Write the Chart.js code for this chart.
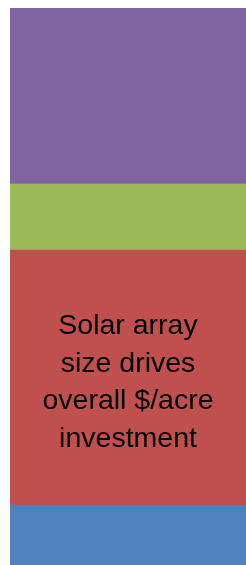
<!DOCTYPE html>
<html>
<head>
<meta charset="utf-8">
<script src="https://cdn.jsdelivr.net/npm/chart.js@4/dist/chart.umd.min.js"></script>
<style>
  html, body { margin: 0; padding: 0; background: #fff; }
  #wrap { width: 246px; height: 565px; }
</style>
</head>
<body>
<div id="wrap"><canvas id="costChart"></canvas></div>
<script>
/* ===== Data (bottom to top of the stack) ===== */
const categories = ["Cost"];
const segmentNames = ["Base", "Solar array", "Other", "Top"];
const segmentValues = [60, 255, 66, 176];
const segmentColors = ["#4F81BD", "#C0504D", "#9BBB59", "#8064A2"];
const calloutLines = ["Solar array", "size drives", "overall $/acre", "investment"];
const calloutSegment = 1;

/* ===== Callout text inside a segment ===== */
const calloutPlugin = {
  id: "callout",
  afterDatasetsDraw(chart) {
    const bar = chart.getDatasetMeta(calloutSegment).data[0];
    if (!bar) return;
    const ctx = chart.ctx;
    const cy = (bar.y + bar.base) / 2;
    const lineH = 37.5;
    ctx.save();
    ctx.fillStyle = "#000";
    ctx.font = "28.5px 'Liberation Sans', Arial, sans-serif";
    ctx.textAlign = "center";
    ctx.textBaseline = "alphabetic";
    calloutLines.forEach((line, i) => {
      const y = cy + (i - (calloutLines.length - 1) / 2) * lineH + 13;
      ctx.fillText(line, bar.x, y);
    });
    ctx.restore();
  }
};

const total = segmentValues.reduce((a, b) => a + b, 0);

new Chart(document.getElementById("costChart"), {
  type: "bar",
  data: {
    labels: categories,
    datasets: segmentNames.map((name, i) => ({
      label: name,
      data: [segmentValues[i]],
      backgroundColor: segmentColors[i],
      borderWidth: 0,
      barPercentage: 1,
      categoryPercentage: 1
    }))
  },
  options: {
    responsive: true,
    maintainAspectRatio: false,
    animation: false,
    layout: { padding: { left: 10, top: 8, right: 0, bottom: 0 } },
    plugins: { legend: { display: false }, tooltip: { enabled: false } },
    scales: {
      x: { stacked: true, display: false },
      y: { stacked: true, display: false, min: 0, max: total }
    }
  },
  plugins: [calloutPlugin]
});
</script>
</body>
</html>
